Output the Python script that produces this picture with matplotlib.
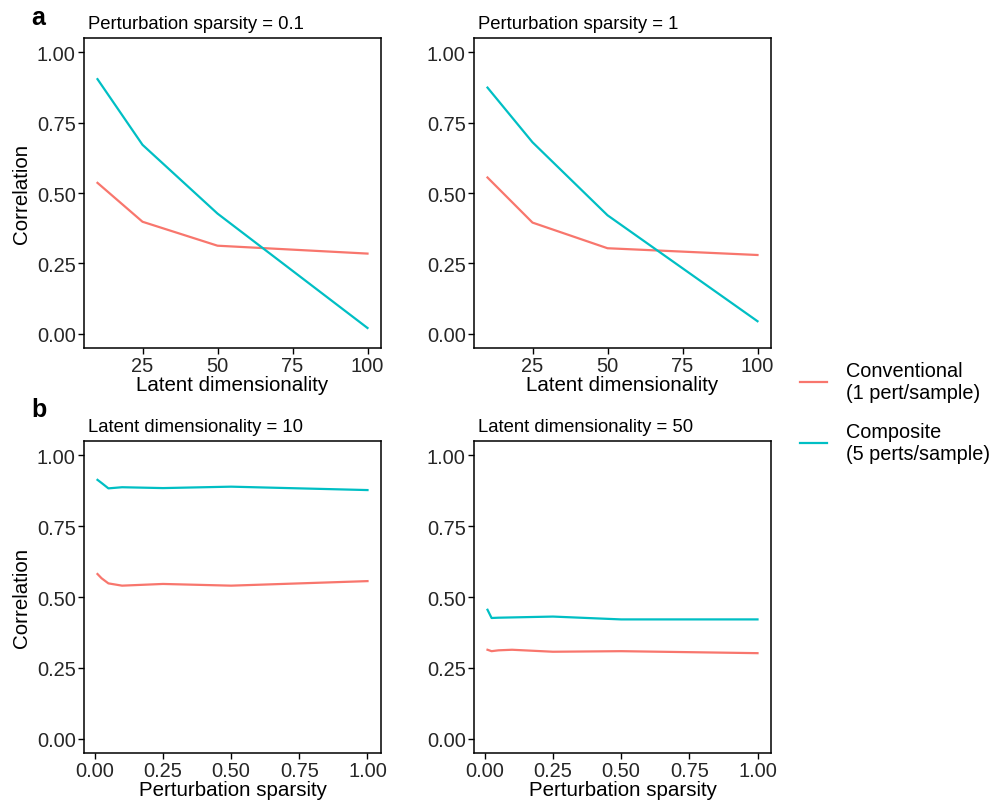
import matplotlib
matplotlib.use("Agg")
import matplotlib.pyplot as plt

plt.rcParams["font.family"] = ["Liberation Sans", "DejaVu Sans"]

# panel a: correlation vs latent dimensionality
latent_dims = [10, 25, 50, 100]
a_conv_01 = [0.536, 0.398, 0.313, 0.285]
a_comp_01 = [0.904, 0.671, 0.427, 0.021]
a_conv_1 = [0.555, 0.395, 0.304, 0.280]
a_comp_1 = [0.874, 0.680, 0.421, 0.045]

# panel b: correlation vs perturbation sparsity
sparsity = [0.01, 0.025, 0.05, 0.1, 0.25, 0.5, 1.0]
b_conv_10 = [0.581, 0.566, 0.548, 0.540, 0.546, 0.540, 0.556]
b_comp_10 = [0.913, 0.902, 0.883, 0.887, 0.884, 0.889, 0.877]
b_conv_50 = [0.314, 0.309, 0.312, 0.314, 0.307, 0.309, 0.302]
b_comp_50 = [0.455, 0.426, 0.427, 0.428, 0.431, 0.421, 0.421]

panel_titles = ["Perturbation sparsity = 0.1", "Perturbation sparsity = 1",
                "Latent dimensionality = 10", "Latent dimensionality = 50"]
series_labels = ["Conventional\n(1 pert/sample)", "Composite\n(5 perts/sample)"]

RED = "#F8766D"
TEAL = "#00BFC4"
W, H = 994, 804

fig = plt.figure(figsize=(W / 100, H / 100), dpi=100)


def make_ax(x0, y_top, w, h):
    return fig.add_axes([x0 / W, 1 - (y_top + h) / H, w / W, h / H])


axes = [make_ax(84, 39, 297, 310), make_ax(474, 39, 297, 310),
        make_ax(84, 442, 297, 312), make_ax(474, 442, 297, 312)]

data = [(latent_dims, a_conv_01, a_comp_01), (latent_dims, a_conv_1, a_comp_1),
        (sparsity, b_conv_10, b_comp_10), (sparsity, b_conv_50, b_comp_50)]

handles = []
for i, (ax, (xs, conv, comp)) in enumerate(zip(axes, data)):
    l1, = ax.plot(xs, conv, color=RED, lw=1.6)
    l2, = ax.plot(xs, comp, color=TEAL, lw=1.6)
    if i == 0:
        handles = [l1, l2]
    ax.set_ylim(-0.05, 1.05)
    ax.set_yticks([0, 0.25, 0.5, 0.75, 1.0])
    ax.set_yticklabels(["0.00", "0.25", "0.50", "0.75", "1.00"])
    if i < 2:
        ax.set_xlim(5.5, 104.5)
        ax.set_xticks([25, 50, 75, 100])
        ax.set_xlabel("Latent dimensionality", fontsize=14.8, labelpad=0)
    else:
        ax.set_xlim(-0.0395, 1.0495)
        ax.set_xticks([0, 0.25, 0.5, 0.75, 1.0])
        ax.set_xticklabels(["0.00", "0.25", "0.50", "0.75", "1.00"])
        ax.set_xlabel("Perturbation sparsity", fontsize=14.8, labelpad=0)
    if i % 2 == 0:
        ax.set_ylabel("Correlation", fontsize=14.8, labelpad=4)
    for sp in ax.spines.values():
        sp.set_linewidth(1.1)
        sp.set_color("black")
    ax.tick_params(direction="out", length=4, width=1.0, color="black",
                   labelsize=14.4, labelcolor="#262626", pad=2)
    ax.text(0.014, 1.018, panel_titles[i], transform=ax.transAxes,
            fontsize=13.3, ha="left", va="bottom")

fig.text(31 / W, 1 - 18 / H, "a", fontsize=18, fontweight="bold", va="center", ha="left")
fig.text(31 / W, 1 - 410 / H, "b", fontsize=18, fontweight="bold", va="center", ha="left")

fig.legend(handles, series_labels, loc="center left",
           bbox_to_anchor=(786 / W, 1 - 413 / H), frameon=False,
           fontsize=14.3, handlelength=1.35, handletextpad=0.95, labelspacing=1.0,
           borderaxespad=0.3)

fig.savefig("out.png", dpi=100, facecolor="white")
